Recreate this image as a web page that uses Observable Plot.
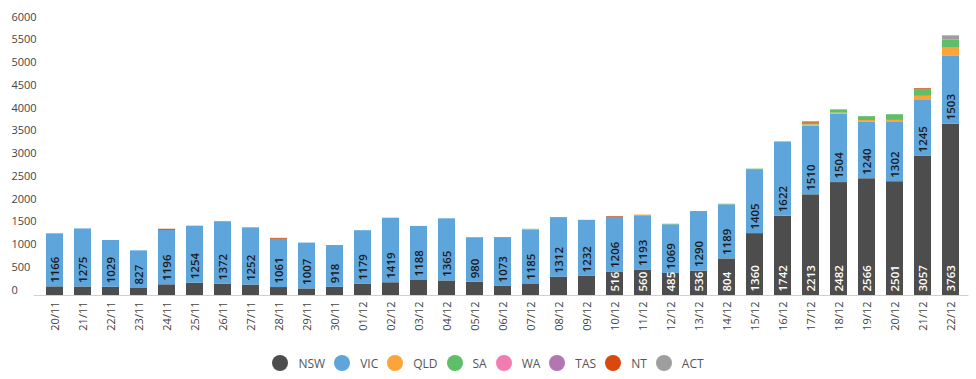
<!DOCTYPE html>
<html><head><meta charset="utf-8">
<script src="https://cdn.jsdelivr.net/npm/d3@7"></script>
<script src="https://cdn.jsdelivr.net/npm/@observablehq/plot@0.6"></script>
<style>
body{margin:0;background:#fff;font-family:"Open Sans",sans-serif;}
#chart svg{display:block;}
#legend{display:flex;justify-content:center;align-items:center;height:30px;font-size:12px;color:#555;}
.item{display:flex;align-items:center;margin:0 4.5px;}
.dot{width:16px;height:16px;border-radius:50%;margin-right:10px;}
</style></head><body><div id="chart"></div><div id="legend"></div>
<script>
const dates = ["20/11","21/11","22/11","23/11","24/11","25/11","26/11","27/11","28/11","29/11","30/11",
  "01/12","02/12","03/12","04/12","05/12","06/12","07/12","08/12","09/12","10/12","11/12","12/12",
  "13/12","14/12","15/12","16/12","17/12","18/12","19/12","20/12","21/12","22/12"];
const nsw = [190,188,180,154,235,270,250,230,175,145,180,245,280,330,320,290,200,255,400,420,516,560,485,536,804,1360,1742,2213,2482,2566,2501,3057,3763];
const vic = [1166,1275,1029,827,1196,1254,1372,1252,1061,1007,918,1179,1419,1188,1365,980,1073,1185,1312,1232,1206,1193,1069,1290,1189,1405,1622,1510,1504,1240,1302,1245,1503];
const qld = [0,0,0,0,0,0,0,0,0,0,0,0,0,0,0,0,0,5,0,0,0,15,0,0,0,0,0,25,22,40,45,75,170];
const sa  = [0,0,0,0,0,0,0,0,0,0,0,0,0,0,0,0,0,10,0,0,0,0,12,0,12,12,12,38,72,85,125,147,183];
const wa  = [0,0,0,0,0,0,0,0,0,0,0,0,0,0,0,0,0,0,0,0,0,0,0,0,0,0,0,0,0,0,0,0,0];
const tas = [0,0,0,0,0,0,0,0,0,0,0,0,0,0,0,0,0,0,0,0,0,0,0,0,0,0,0,0,0,0,0,0,0];
const nt  = [0,0,0,0,25,0,0,6,20,0,0,0,0,0,0,0,0,0,0,0,15,0,0,15,0,0,0,28,0,0,0,20,0];
const act = [0,0,0,0,0,0,0,0,0,0,0,0,0,0,0,0,0,0,0,0,0,0,0,0,0,0,0,0,0,0,0,0,88];
const states = ["NSW","VIC","QLD","SA","WA","TAS","NT","ACT"];
const colors = ["#4d4d4d","#5da5da","#faa43a","#60bd68","#f17cb0","#b276b2","#d9480f","#9e9e9e"];
const yTicks = [0,500,1000,1500,2000,2500,3000,3500,4000,4500,5000,5500,6000];

const series = {NSW: nsw, VIC: vic, QLD: qld, SA: sa, WA: wa, TAS: tas, NT: nt, ACT: act};
const rows = dates.flatMap((d, i) => states.map(s => ({date: d, state: s, value: series[s][i]})));

const chart = Plot.plot({
  width: 976, height: 348,
  marginLeft: 40.5, marginRight: 11.5, marginTop: 22, marginBottom: 53,
  style: {fontFamily: "Open Sans", fontSize: "11px", color: "#444", background: "#fff"},
  x: {domain: dates, paddingInner: 0.39, paddingOuter: 0.195, label: null},
  y: {domain: [0, 6000], label: null},
  color: {domain: states, range: colors},
  marks: [
    Plot.barY(rows, {x: "date", y: "value", fill: "state", order: states}),
    Plot.ruleY([0], {stroke: "#d0d0d0", insetLeft: -7, insetRight: -4}),
    Plot.axisX({tickSize: 0, tickPadding: 6, tickRotate: -90, label: null}),
    Plot.axisY({ticks: yTicks, tickFormat: d => String(d), tickSize: 0, tickPadding: 0, textAnchor: "start", dx: -29.5, dy: -5.5, label: null}),
    Plot.text(rows, Plot.stackY1({x: "date", y: "value", z: "state", order: states,
      text: d => d.state === "VIC" ? String(d.value) : null,
      rotate: -90, textAnchor: "start", dy: -4, fill: "#1a1a1a", fontWeight: 600, fontSize: 11.5})),
    Plot.text(rows, Plot.stackY1({x: "date", y: "value", z: "state", order: states,
      text: d => (d.state === "NSW" && d.value >= 450) ? String(d.value) : null,
      rotate: -90, textAnchor: "start", dy: -4, fill: "#ffffff", fontWeight: 600, fontSize: 11.5}))
  ]
});
document.getElementById("chart").appendChild(chart);

const legend = document.getElementById("legend");
states.forEach((s, i) => {
  const item = document.createElement("div");
  item.className = "item";
  const dot = document.createElement("span");
  dot.className = "dot";
  dot.style.background = colors[i];
  const label = document.createElement("span");
  label.textContent = s;
  item.appendChild(dot);
  item.appendChild(label);
  legend.appendChild(item);
});
</script>
</body></html>
